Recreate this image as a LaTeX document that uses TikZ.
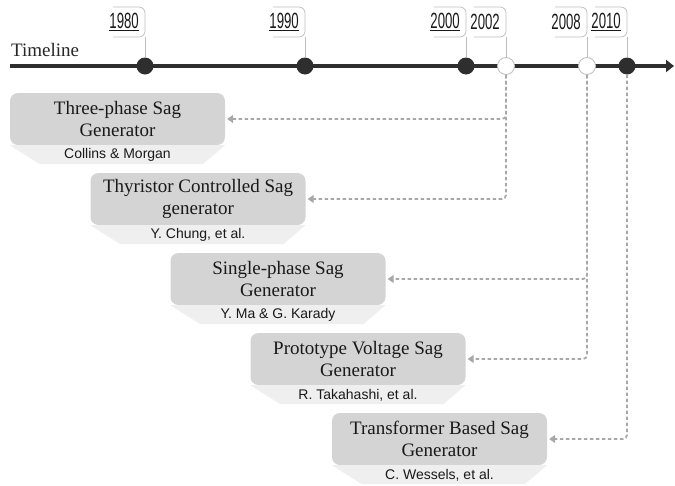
\documentclass[tikz,border=0pt]{standalone}
\usepackage{fontspec}
\setmainfont{Liberation Serif}
\newfontfamily\authorfont{Liberation Sans}
\newfontfamily\yearfont[FakeStretch=0.6]{Liberation Sans}
\usetikzlibrary{positioning,arrows.meta}
\definecolor{boxgray}{HTML}{D4D4D4}
\definecolor{bandgray}{HTML}{EFEFEF}
\definecolor{linkgray}{HTML}{A8A8A8}
\definecolor{axisgray}{HTML}{2E2E2E}
\definecolor{calloutgray}{HTML}{BDBDBD}

\begin{document}
\begin{tikzpicture}[x=1pt,y=-1pt,
    genbox/.style={fill=boxgray, rounded corners=8pt, minimum width=215pt,
        minimum height=52pt, inner sep=0pt, align=center, text=black!90,
        font=\fontsize{19}{22}\selectfont},
    authortext/.style={minimum height=19pt, inner sep=0pt, text=black!90,
        font=\authorfont\fontsize{14}{16}\selectfont},
    fulldot/.style={circle, fill=axisgray, minimum size=17pt, inner sep=0pt},
    opendot/.style={circle, fill=white, draw=calloutgray, line width=0.8pt,
        minimum size=17pt, inner sep=0pt},
    yearlbl/.style={inner sep=0pt, text=black!90, font=\yearfont\fontsize{22}{22}\selectfont},
    callout/.style={draw=calloutgray, line width=0.7pt, rounded corners=6pt},
    link/.style={draw=linkgray, line width=1.8pt, dash pattern=on 3.5pt off 2.5pt,
        rounded corners=4pt, shorten >=2pt,
        -{Triangle[width=8pt,length=6pt,fill=linkgray]}}]
    \useasboundingbox (0,0) rectangle (675,485);

    % Timeline axis
    \coordinate (tl0) at (10,66);
    \coordinate (tl1) at (674,66);
    \draw[axisgray, line width=4pt, -{Triangle[width=12pt,length=8pt]}] (tl0) -- (tl1);
    \node[anchor=west, inner sep=0pt, text=black!85, font=\fontsize{19}{21}\selectfont]
        (tllabel) at (11,50) {Timeline};

    % Years on the timeline
    \foreach \yr/\xp/\st/\txt in {1980/145/fulldot/{\underline{1980}},
            1990/305/fulldot/{\underline{1990}}, 2000/466/fulldot/{\underline{2000}},
            2002/506/opendot/{2002}, 2008/587/opendot/{2008},
            2010/627/fulldot/{\underline{2010}}} {
        \draw[callout] (\xp-32,7) -- (\xp,7) -- (\xp,37) -- (\xp-32,37);
        \node[\st] (d\yr) at (\xp,66) {};
        \draw[calloutgray, line width=0.7pt] (\xp,37) -- (d\yr.north);
        \node[yearlbl, anchor=east] (y\yr) at (\xp-6,22) {\txt};
    }

    % Sag generators
    \foreach \i/\xc/\yc/\name/\who in {
            1/117.5/119/{Three-phase Sag\\Generator}/{Collins \& Morgan},
            2/198/199/{Thyristor Controlled Sag\\generator}/{Y. Chung, et al.},
            3/278/279/{Single-phase Sag\\Generator}/{Y. Ma \& G. Karady},
            4/358/359/{Prototype Voltage Sag\\Generator}/{R. Takahashi, et al.},
            5/439.5/439/{Transformer Based Sag\\Generator}/{C. Wessels, et al.}} {
        \node[genbox] (g\i) at (\xc,\yc) {\name};
        \fill[bandgray] (g\i.south east) -- (g\i.south west) -- ++(30,19) -- ++(163,0) -- cycle;
        \node[authortext, below=0pt of g\i] (a\i) {\who};
    }

    % Links from the years
    \draw[link] (d2002) |- (g1.east);
    \draw[link] (d2002) |- (g2.east);
    \draw[link] (d2008) |- (g3.east);
    \draw[link] (d2008) |- (g4.east);
    \draw[link] (d2010) |- (g5.east);
\end{tikzpicture}
\end{document}
